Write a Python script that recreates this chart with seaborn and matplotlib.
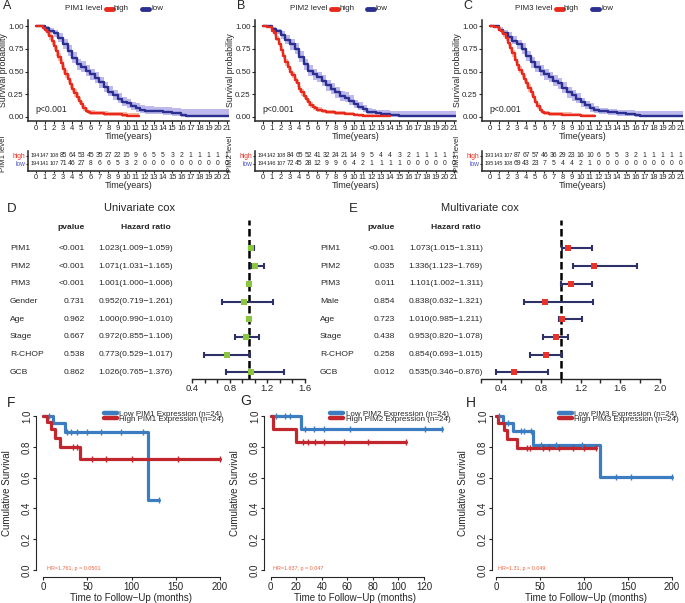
import numpy as np
import matplotlib
matplotlib.use("Agg")
import matplotlib.pyplot as plt
import seaborn as sns
from matplotlib.lines import Line2D
from matplotlib import transforms, font_manager

sns.set_style("ticks")
plt.rcParams["font.family"] = ["Liberation Sans", "DejaVu Sans"]
_installed = {f.name for f in font_manager.fontManager.ttflist}
if "Liberation Sans Narrow" in _installed:
    NARROW, RISK_BIG, RISK_SMALL = ["Liberation Sans Narrow"], 5.0, 4.7
else:
    NARROW, RISK_BIG, RISK_SMALL = ["Liberation Sans"], 4.9, 4.1

# ---------------- data: TCGA-style KM curves (A-C) ----------------
YEARS = list(range(22))

A_HIGH_T = [0, 0.5, 0.75, 1, 1.25, 1.5, 1.75, 2, 2.25, 2.5, 2.75, 3, 3.25, 3.5, 3.75, 4, 4.25, 4.5, 4.75, 5,
            5.25, 5.5, 5.75, 6, 6.5, 7, 7.5, 8, 8.5, 9, 9.5, 10, 10.5, 11.3]
A_HIGH_S = [1.0, 0.995, 0.98, 0.96, 0.935, 0.89, 0.84, 0.78, 0.72, 0.66, 0.59, 0.53, 0.475, 0.42, 0.365, 0.31, 0.265, 0.22, 0.18, 0.14,
            0.10, 0.07, 0.05, 0.045, 0.042, 0.04, 0.037, 0.035, 0.031, 0.028, 0.02, 0.015, 0.01, 0.01]
A_HIGH_LO = [1.0, 0.985, 0.96, 0.93, 0.90, 0.85, 0.795, 0.735, 0.675, 0.615, 0.545, 0.485, 0.43, 0.375, 0.32, 0.27, 0.225, 0.185, 0.145, 0.11,
             0.07, 0.045, 0.028, 0.024, 0.021, 0.019, 0.016, 0.014, 0.011, 0.009, 0.004, 0.002, 0.0, 0.0]
A_HIGH_HI = [1.0, 1.0, 1.0, 0.99, 0.97, 0.93, 0.885, 0.825, 0.765, 0.705, 0.635, 0.575, 0.52, 0.465, 0.41, 0.355, 0.305, 0.26, 0.22, 0.175,
             0.135, 0.10, 0.078, 0.072, 0.068, 0.066, 0.063, 0.06, 0.057, 0.055, 0.05, 0.046, 0.042, 0.042]
A_LOW_T = [0, 0.5, 1, 1.5, 2, 2.5, 3, 3.5, 4, 4.5, 5, 5.5, 6, 6.5, 7, 7.5, 8, 8.5, 9, 9.5,
           10, 10.5, 11, 11.5, 12, 13, 14, 15, 16, 16.5, 17, 21.3]
A_LOW_S = [1.0, 1.0, 0.98, 0.95, 0.92, 0.87, 0.80, 0.73, 0.65, 0.58, 0.55, 0.51, 0.47, 0.43, 0.38, 0.33, 0.28, 0.24, 0.20, 0.17,
           0.15, 0.12, 0.10, 0.08, 0.07, 0.065, 0.055, 0.045, 0.025, 0.012, 0.01, 0.01]
A_LOW_LO = [1.0, 0.99, 0.96, 0.92, 0.88, 0.82, 0.75, 0.67, 0.59, 0.52, 0.49, 0.45, 0.41, 0.37, 0.32, 0.27, 0.23, 0.19, 0.15, 0.12,
            0.10, 0.08, 0.06, 0.045, 0.035, 0.03, 0.022, 0.015, 0.004, 0.0, 0.0, 0.0]
A_LOW_HI = [1.0, 1.0, 1.0, 0.98, 0.96, 0.92, 0.86, 0.79, 0.71, 0.64, 0.61, 0.57, 0.53, 0.49, 0.44, 0.39, 0.34, 0.30, 0.26, 0.22,
            0.20, 0.17, 0.15, 0.13, 0.12, 0.115, 0.105, 0.10, 0.09, 0.09, 0.09, 0.09]
A_RISK_HIGH = [194, 147, 108, 85, 64, 53, 45, 35, 27, 22, 15, 9, 6, 5, 5, 3, 2, 1, 1, 1, 1, 1]
A_RISK_LOW = [194, 141, 107, 71, 46, 27, 8, 6, 6, 5, 3, 2, 0, 0, 0, 0, 0, 0, 0, 0, 0, 0]

B_HIGH_T = [0, 0.5, 1, 1.25, 1.5, 1.75, 2, 2.25, 2.5, 2.75, 3, 3.25, 3.5, 3.75, 4, 4.25, 4.5, 4.75, 5, 5.25,
            5.5, 5.75, 6, 6.5, 7, 7.5, 8, 9, 10, 10.5, 11, 11.5, 12, 13, 14]
B_HIGH_S = [1.0, 0.99, 0.95, 0.92, 0.86, 0.80, 0.74, 0.67, 0.60, 0.55, 0.50, 0.46, 0.41, 0.37, 0.31, 0.27, 0.23, 0.20, 0.16, 0.13,
            0.11, 0.095, 0.08, 0.065, 0.057, 0.05, 0.045, 0.036, 0.025, 0.018, 0.012, 0.008, 0.008, 0.006, 0.006]
B_HIGH_LO = [1.0, 0.98, 0.93, 0.89, 0.83, 0.765, 0.705, 0.635, 0.565, 0.515, 0.465, 0.425, 0.375, 0.335, 0.275, 0.235, 0.195, 0.165, 0.125, 0.10,
             0.08, 0.068, 0.055, 0.042, 0.035, 0.03, 0.025, 0.018, 0.01, 0.005, 0.002, 0.0, 0.0, 0.0, 0.0]
B_HIGH_HI = [1.0, 1.0, 0.97, 0.95, 0.89, 0.835, 0.775, 0.705, 0.635, 0.585, 0.535, 0.495, 0.445, 0.405, 0.345, 0.305, 0.265, 0.235, 0.195, 0.16,
             0.14, 0.122, 0.105, 0.09, 0.08, 0.072, 0.066, 0.056, 0.045, 0.038, 0.032, 0.028, 0.028, 0.026, 0.026]
B_LOW_T = [0, 0.75, 1, 1.5, 2, 2.5, 3, 3.5, 4, 4.5, 5, 5.5, 6, 6.5, 7, 7.5, 8, 8.5, 9, 9.5,
           10, 10.5, 11, 11.5, 12, 12.5, 13, 14, 15, 16, 16.5, 21.3]
B_LOW_S = [1.0, 1.0, 0.97, 0.94, 0.90, 0.85, 0.80, 0.75, 0.66, 0.58, 0.51, 0.47, 0.44, 0.40, 0.35, 0.31, 0.27, 0.23, 0.21, 0.18,
           0.14, 0.11, 0.09, 0.06, 0.05, 0.04, 0.03, 0.02, 0.014, 0.01, 0.007, 0.007]
B_LOW_LO = [1.0, 0.99, 0.95, 0.91, 0.86, 0.80, 0.74, 0.69, 0.60, 0.52, 0.45, 0.41, 0.38, 0.34, 0.29, 0.25, 0.21, 0.18, 0.16, 0.13,
            0.10, 0.075, 0.06, 0.035, 0.026, 0.018, 0.01, 0.004, 0.0, 0.0, 0.0, 0.0]
B_LOW_HI = [1.0, 1.0, 0.99, 0.97, 0.94, 0.90, 0.86, 0.81, 0.72, 0.64, 0.57, 0.53, 0.50, 0.46, 0.41, 0.37, 0.33, 0.29, 0.27, 0.24,
            0.19, 0.16, 0.13, 0.10, 0.09, 0.08, 0.075, 0.07, 0.07, 0.07, 0.07, 0.07]
B_RISK_HIGH = [194, 142, 108, 84, 65, 52, 41, 32, 24, 21, 14, 9, 5, 4, 4, 3, 2, 1, 1, 1, 1, 1]
B_RISK_LOW = [194, 146, 107, 72, 45, 28, 12, 9, 9, 6, 4, 2, 1, 1, 1, 1, 0, 0, 0, 0, 0, 0]

C_HIGH_T = [0, 0.5, 1, 1.25, 1.5, 1.75, 2, 2.25, 2.5, 2.75, 3, 3.25, 3.5, 3.75, 4, 4.25, 4.5, 4.75, 5, 5.25,
            5.5, 5.75, 6, 6.5, 7, 8, 9, 10, 11, 11.6]
C_HIGH_S = [1.0, 0.99, 0.96, 0.94, 0.91, 0.87, 0.81, 0.76, 0.70, 0.63, 0.57, 0.52, 0.47, 0.42, 0.37, 0.32, 0.27, 0.22, 0.17, 0.12,
            0.08, 0.05, 0.04, 0.034, 0.03, 0.027, 0.022, 0.015, 0.008, 0.008]
C_HIGH_LO = [1.0, 0.98, 0.94, 0.91, 0.88, 0.835, 0.775, 0.72, 0.66, 0.59, 0.53, 0.48, 0.43, 0.38, 0.33, 0.28, 0.235, 0.185, 0.14, 0.09,
             0.055, 0.03, 0.02, 0.016, 0.013, 0.011, 0.008, 0.003, 0.0, 0.0]
C_HIGH_HI = [1.0, 1.0, 0.98, 0.97, 0.94, 0.905, 0.845, 0.80, 0.74, 0.67, 0.61, 0.56, 0.51, 0.46, 0.41, 0.36, 0.305, 0.255, 0.20, 0.15,
             0.105, 0.075, 0.065, 0.058, 0.054, 0.05, 0.045, 0.038, 0.03, 0.03]
C_LOW_T = [0, 0.75, 1, 1.5, 2, 2.5, 3, 3.5, 4, 4.5, 5, 5.5, 6, 6.5, 7, 7.5, 8, 8.5, 9, 9.5,
           10, 10.5, 11, 11.5, 12, 13, 14, 15, 16, 16.5, 17, 21.3]
C_LOW_S = [1.0, 1.0, 0.96, 0.92, 0.88, 0.84, 0.80, 0.75, 0.67, 0.60, 0.55, 0.51, 0.47, 0.44, 0.40, 0.37, 0.32, 0.27, 0.24, 0.20,
           0.16, 0.13, 0.10, 0.08, 0.065, 0.055, 0.042, 0.036, 0.025, 0.015, 0.007, 0.007]
C_LOW_LO = [1.0, 0.99, 0.94, 0.89, 0.84, 0.80, 0.75, 0.69, 0.61, 0.54, 0.49, 0.45, 0.41, 0.38, 0.34, 0.31, 0.26, 0.21, 0.18, 0.15,
            0.11, 0.085, 0.06, 0.045, 0.033, 0.025, 0.015, 0.01, 0.003, 0.0, 0.0, 0.0]
C_LOW_HI = [1.0, 1.0, 0.99, 0.96, 0.93, 0.89, 0.85, 0.81, 0.73, 0.66, 0.61, 0.57, 0.53, 0.50, 0.46, 0.43, 0.38, 0.33, 0.30, 0.26,
            0.21, 0.18, 0.15, 0.12, 0.10, 0.09, 0.08, 0.075, 0.07, 0.07, 0.07, 0.07]
C_RISK_HIGH = [193, 143, 107, 87, 67, 57, 46, 36, 29, 23, 16, 10, 6, 5, 5, 3, 2, 1, 1, 1, 1, 1]
C_RISK_LOW = [195, 145, 108, 69, 43, 23, 7, 5, 4, 4, 2, 1, 0, 0, 0, 0, 0, 0, 0, 0, 0, 0]

# ---------------- data: Cox models (D, E) ----------------
UNI_LABELS = ["PIM1", "PIM2", "PIM3", "Gender", "Age", "Stage", "R-CHOP", "GCB"]
UNI_P = ["<0.001", "<0.001", "<0.001", "0.731", "0.962", "0.667", "0.538", "0.862"]
UNI_HR = [1.023, 1.071, 1.001, 0.952, 1.000, 0.972, 0.773, 1.026]
UNI_LO = [1.009, 1.031, 1.000, 0.719, 0.990, 0.855, 0.529, 0.765]
UNI_HI = [1.059, 1.165, 1.006, 1.261, 1.010, 1.106, 1.017, 1.376]

MULTI_LABELS = ["PIM1", "PIM2", "PIM3", "Male", "Age", "Stage", "R-CHOP", "GCB"]
MULTI_P = ["<0.001", "0.035", "0.011", "0.854", "0.723", "0.438", "0.258", "0.012"]
MULTI_HR = [1.073, 1.336, 1.101, 0.838, 1.010, 0.953, 0.854, 0.535]
MULTI_LO = [1.015, 1.123, 1.002, 0.632, 0.985, 0.820, 0.693, 0.346]
MULTI_HI = [1.311, 1.769, 1.311, 1.321, 1.211, 1.078, 1.015, 0.876]

# ---------------- data: validation cohort KM (F-H), months ----------------
F_LOW_T = [0, 11, 24, 118, 131]
F_LOW_S = [1.0, 0.952, 0.894, 0.455, 0.455]
F_LOW_CENS = [6, 27, 31, 38, 50, 65, 88, 113, 131]
F_HIGH_T = [0, 4, 9, 13, 19, 42, 200]
F_HIGH_S = [1.0, 0.958, 0.917, 0.86, 0.80, 0.72, 0.72]
F_HIGH_CENS = [34, 38, 55, 71, 100, 153, 200]

G_LOW_T = [0, 24, 134]
G_LOW_S = [1.0, 0.913, 0.913]
G_LOW_CENS = [4, 11, 15, 27, 34, 42, 62, 121, 134]
G_HIGH_T = [0, 2, 20, 106]
G_HIGH_S = [1.0, 0.917, 0.833, 0.833]
G_HIGH_CENS = [25, 29, 35, 42, 57, 76, 106]

H_LOW_T = [0, 8, 19, 42, 118, 200]
H_LOW_S = [1.0, 0.955, 0.90, 0.81, 0.605, 0.605]
H_LOW_CENS = [4, 14, 28, 32, 40, 51, 68, 98, 136, 153, 200]
H_HIGH_T = [0, 2, 9, 12, 24, 114]
H_HIGH_S = [1.0, 0.955, 0.91, 0.85, 0.79, 0.79]
H_HIGH_CENS = [35, 39, 53, 60, 72, 87, 100, 114]

# ---------------- colours ----------------
KM_RED, KM_RED_BAND = "#E8291C", "#F6B8A8"
KM_BLUE, KM_BLUE_BAND = "#2B2F8F", "#BDB9EC"
GREEN, NAVY, E_RED = "#8CC63F", "#2E3068", "#E8322A"
BLUE2, RED2, HR_COL = "#3B7DC0", "#C1272D", "#F2603C"

W, H = 685, 603
fig = plt.figure(figsize=(W / 100, H / 100), dpi=100, facecolor="white")


def fx(px):
    return px / W


def fy(py):
    return 1 - py / H


def px_axes(x0, y0, x1, y1):
    return fig.add_axes([x0 / W, 1 - y1 / H, (x1 - x0) / W, (y1 - y0) / H])


def km_panel(x0, letter, letter_x, gene, legend_x, high, low, risk_high, risk_low):
    t_h, s_h, lo_h, hi_h = [np.asarray(v) for v in high]
    t_l, s_l, lo_l, hi_l = [np.asarray(v) for v in low]
    ax = px_axes(x0, 20, x0 + 201, 121)
    ax.fill_between(t_l, lo_l, hi_l, step="post", color=KM_BLUE_BAND, lw=0)
    ax.fill_between(t_h, lo_h, hi_h, step="post", color=KM_RED_BAND, lw=0)
    sns.lineplot(x=t_l, y=s_l, ax=ax, color=KM_BLUE, lw=1.7, drawstyle="steps-post",
                 estimator=None, sort=False)
    sns.lineplot(x=t_h, y=s_h, ax=ax, color=KM_RED, lw=1.7, drawstyle="steps-post",
                 estimator=None, sort=False)
    ax.set_xlim(-0.85, 21.25)
    ax.set_ylim(-0.044, 1.066)
    ax.set_xticks(YEARS)
    ax.set_xticklabels([str(y) for y in YEARS], fontsize=5.6)
    ax.set_yticks([0, 0.25, 0.5, 0.75, 1.0])
    ax.set_yticklabels(["0.00", "0.25", "0.50", "0.75", "1.00"], fontsize=5.8)
    ax.tick_params(length=2, width=0.8, pad=1)
    sns.despine(ax=ax)
    for sp in ("left", "bottom"):
        ax.spines[sp].set_linewidth(1.1)
    ax.set_xlabel("Time(years)", fontsize=6.5, labelpad=0)
    ax.set_ylabel("Survival probability", fontsize=6.3, labelpad=0.5)
    ax.text(0, 0.077, "p<0.001", fontsize=6.2, va="center")

    # risk table
    rt = px_axes(x0, 151, x0 + 201, 171)
    for row, counts in ((1, risk_high), (0, risk_low)):
        for yr, n in zip(YEARS, counts):
            size = RISK_SMALL if n >= 100 else RISK_BIG
            rt.text(yr, row, str(n), ha="center", va="center", fontsize=size, family=NARROW)
    rt.set_xlim(-0.85, 21.25)
    rt.set_ylim(-0.875, 1.625)
    rt.set_xticks(YEARS)
    rt.set_xticklabels([str(y) for y in YEARS], fontsize=5.4)
    rt.set_yticks([1, 0])
    rt.set_yticklabels(["high", "low"], fontsize=4.8)
    for lab, c in zip(rt.get_yticklabels(), [KM_RED, "#4B55C8"]):
        lab.set_color(c)
    rt.tick_params(length=1.5, width=0.8, pad=0.4)
    sns.despine(ax=rt)
    for sp in ("left", "bottom"):
        rt.spines[sp].set_linewidth(1.1)
    rt.set_xlabel("Time(years)", fontsize=6.5, labelpad=0)
    rt.set_ylabel(f"{gene} level", fontsize=5.6)
    rt.yaxis.set_label_coords(-0.102, 0.85)

    # legend on top
    yl = fy(9)
    fig.text(fx(legend_x), yl, f"{gene} level", fontsize=5.8, va="center")
    fig.add_artist(Line2D([fx(legend_x + 41), fx(legend_x + 48)], [yl, yl], color=KM_RED, lw=3.5))
    fig.text(fx(legend_x + 49), yl, "high", fontsize=5.8, va="center")
    fig.add_artist(Line2D([fx(legend_x + 77), fx(legend_x + 84)], [yl, yl], color=KM_BLUE, lw=3.5))
    fig.text(fx(legend_x + 86), yl, "low", fontsize=5.8, va="center")
    fig.text(fx(letter_x), fy(6), letter, fontsize=9, va="center")


km_panel(28, "A", 3, "PIM1", 65, (A_HIGH_T, A_HIGH_S, A_HIGH_LO, A_HIGH_HI),
         (A_LOW_T, A_LOW_S, A_LOW_LO, A_LOW_HI), A_RISK_HIGH, A_RISK_LOW)
km_panel(255, "B", 237, "PIM2", 290, (B_HIGH_T, B_HIGH_S, B_HIGH_LO, B_HIGH_HI),
         (B_LOW_T, B_LOW_S, B_LOW_LO, B_LOW_HI), B_RISK_HIGH, B_RISK_LOW)
km_panel(482, "C", 463, "PIM3", 515, (C_HIGH_T, C_HIGH_S, C_HIGH_LO, C_HIGH_HI),
         (C_LOW_T, C_LOW_S, C_LOW_LO, C_LOW_HI), C_RISK_HIGH, C_RISK_LOW)


def forest(x_left, x_right, xlim, ticks, ticklabels, bounds, cols, labels, pvals, hr, lo, hi,
           box_color, title, title_x, letter, letter_x):
    hr, lo, hi = np.asarray(hr), np.asarray(lo), np.asarray(hi)
    rows = np.arange(len(labels))
    ax = px_axes(x_left, 220, x_right, 379)
    ax.axvline(1.0, color="black", lw=1.8, ls=(0, (3, 1.4)), zorder=1)
    ax.errorbar(hr, rows, xerr=[hr - lo, hi - hr], fmt="none", ecolor=NAVY, elinewidth=1.5,
                capsize=2.0, capthick=1.5, zorder=2)
    sns.scatterplot(x=hr, y=rows, ax=ax, marker="s", s=16, color=box_color, linewidth=0, zorder=3)
    ax.set_xlim(*xlim)
    ax.set_ylim(7.373, -1.61)
    ax.set_yticks([])
    ax.set_xticks(ticks)
    ax.set_xticklabels(ticklabels, fontsize=6.8)
    ax.tick_params(axis="x", length=3, width=1, pad=0.5)
    for sp in ("left", "top", "right"):
        ax.spines[sp].set_visible(False)
    ax.spines["bottom"].set_bounds(*bounds)
    ax.spines["bottom"].set_linewidth(1)
    ax.patch.set_alpha(0)

    trans = transforms.blended_transform_factory(fig.transFigure, ax.transData)
    lab_x, p_x, hr_x = cols
    ax.text(fx(p_x), -1.21, "pvalue", transform=trans, ha="right", va="center",
            fontsize=6.1, fontweight="bold")
    ax.text(fx(hr_x - 2), -1.21, "Hazard ratio", transform=trans, ha="right", va="center",
            fontsize=6.1, fontweight="bold")
    for r, lab, p, h, l, u in zip(rows, labels, pvals, hr, lo, hi):
        ax.text(fx(lab_x), r, lab, transform=trans, ha="left", va="center", fontsize=6.1)
        ax.text(fx(p_x), r, p, transform=trans, ha="right", va="center", fontsize=6.1)
        ax.text(fx(hr_x), r, f"{h:.3f}({l:.3f}\u2212{u:.3f})", transform=trans, ha="right",
                va="center", fontsize=6.1)
    fig.text(fx(title_x), fy(208), title, fontsize=8, ha="center", va="center")
    fig.text(fx(letter_x), fy(209), letter, fontsize=9.5, va="center")


d_ticks = np.linspace(0.4, 1.6, 10)
d_labels = ["0.4", "", "", "0.8", "", "", "1.2", "", "", "1.6"]
forest(183, 315, (0.304, 1.706), d_ticks, d_labels, (0.4, 1.6), (10, 85, 173),
       UNI_LABELS, UNI_P, UNI_HR, UNI_LO, UNI_HI, GREEN, "Univariate cox", 140, "D", 7)

e_ticks = np.arange(0.2, 2.01, 0.2)
e_labels = ["", "0.4", "", "0.8", "", "1.2", "", "1.6", "", "2.0"]
forest(480, 665, (0.189, 2.05), e_ticks, e_labels, (0.2, 2.0), (320, 395, 483),
       MULTI_LABELS, MULTI_P, MULTI_HR, MULTI_LO, MULTI_HI, E_RED, "Multivariate cox", 480, "E", 349)


def step_value(t, s, x):
    idx = np.searchsorted(np.asarray(t), x, side="right") - 1
    return np.asarray(s)[idx]


def surv_panel(box, xlim, xticks, gene, low, high, low_cens, high_cens, hr_text, hr_x,
               leg_x, letter, letter_xy):
    ax = px_axes(*box)
    sns.lineplot(x=low[0], y=low[1], ax=ax, color=BLUE2, lw=2.3, drawstyle="steps-post",
                 estimator=None, sort=False, label=f"Low {gene} Expression (n=24)")
    sns.lineplot(x=high[0], y=high[1], ax=ax, color=RED2, lw=2.3, drawstyle="steps-post",
                 estimator=None, sort=False, label=f"High {gene} Expression (n=24)")
    ax.plot(low_cens, step_value(low[0], low[1], low_cens), ls="none", marker="|", ms=4,
            mew=1, color=BLUE2)
    ax.plot(high_cens, step_value(high[0], high[1], high_cens), ls="none", marker="|", ms=4,
            mew=1, color=RED2)
    ax.set_xlim(*xlim)
    ax.set_ylim(-0.045, 1.039)
    ax.set_xticks(xticks)
    ax.set_xticklabels([str(x) for x in xticks], fontsize=7)
    yt = [0.0, 0.2, 0.4, 0.6, 0.8, 1.0]
    ax.set_yticks(yt)
    ax.set_yticklabels([f"{v:.1f}" for v in yt], fontsize=7, rotation=90, va="center")
    ax.tick_params(axis="x", length=2.4, width=0.8, pad=1)
    ax.tick_params(axis="y", length=2.4, width=0.8, pad=0.5)
    sns.despine(ax=ax)
    ax.spines["left"].set_bounds(0, 1)
    ax.spines["bottom"].set_bounds(xticks[0], xticks[-1])
    for sp in ("left", "bottom"):
        ax.spines[sp].set_linewidth(0.8)
    ax.set_xlabel("Time to Follow\u2212Up (months)", fontsize=7, labelpad=1)
    ax.set_ylabel("Cumulative Survival", fontsize=7, labelpad=7.5)
    leg = ax.legend(loc="upper right", bbox_to_anchor=(leg_x, 1.0), frameon=False, fontsize=5.8,
                    handlelength=1.6, handletextpad=0.3, labelspacing=-0.25, borderpad=0,
                    borderaxespad=0)
    for ln in leg.get_lines():
        ln.set_linewidth(3.2)
    ax.text(hr_x, 0.01, hr_text, fontsize=3.9, color=HR_COL, va="center")
    fig.text(fx(letter_xy[0]), fy(letter_xy[1]), letter, fontsize=10, va="center")


surv_panel((36, 410, 227, 577), (-8.26, 207.9), [0, 50, 100, 150, 200], "PIM1",
           (F_LOW_T, F_LOW_S), (F_HIGH_T, F_HIGH_S), F_LOW_CENS, F_HIGH_CENS,
           "HR=1.761, p = 0.0501", 4, 0.985, "F", (7, 403))
surv_panel((264, 410, 445, 577), (-5.24, 136.4), [0, 20, 40, 60, 80, 100, 120], "PIM2",
           (G_LOW_T, G_LOW_S), (G_HIGH_T, G_HIGH_S), G_LOW_CENS, G_HIGH_CENS,
           "HR=1.637, p = 0.047", 2, 1.03, "G", (240, 401))
surv_panel((492, 410, 680, 577), (-4.5, 209), [0, 50, 100, 150, 200], "PIM3",
           (H_LOW_T, H_LOW_S), (H_HIGH_T, H_HIGH_S), H_LOW_CENS, H_HIGH_CENS,
           "HR=1.31, p = 0.049", 2.5, 0.995, "H", (466, 403))

fig.savefig("out.png", dpi=100, facecolor="white")
